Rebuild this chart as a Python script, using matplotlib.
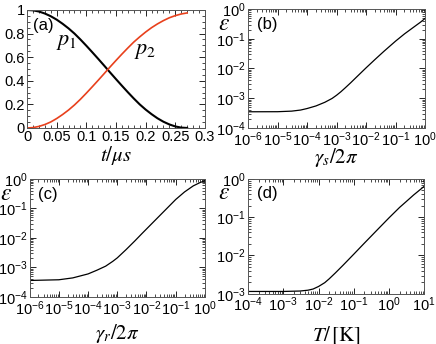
import math
import matplotlib
matplotlib.use('Agg')
import matplotlib.pyplot as plt
from matplotlib.ticker import FixedLocator, LogLocator, NullFormatter

plt.rcParams['font.family'] = ['Liberation Sans', 'DejaVu Sans']
plt.rcParams['mathtext.fontset'] = 'custom'
plt.rcParams['mathtext.rm'] = 'Liberation Sans'
plt.rcParams['mathtext.it'] = 'Liberation Sans:italic'
plt.rcParams['mathtext.bf'] = 'Liberation Sans:bold'

# (a) populations vs time
t_us = [0.0, 0.01, 0.02, 0.03, 0.04, 0.05, 0.06, 0.07, 0.08, 0.09, 0.10, 0.11, 0.12, 0.13,
        0.14, 0.15, 0.16, 0.17, 0.18, 0.19, 0.20, 0.21, 0.22, 0.23, 0.24, 0.25, 0.26, 0.27]
p1 = [1.0, 0.997, 0.987, 0.970, 0.947, 0.918, 0.883, 0.844, 0.800, 0.750, 0.697, 0.642, 0.586, 0.529,
      0.471, 0.414, 0.358, 0.303, 0.250, 0.200, 0.156, 0.117, 0.082, 0.053, 0.030, 0.013, 0.003, 0.0]
p2 = [0.0, 0.003, 0.013, 0.029, 0.051, 0.080, 0.114, 0.152, 0.195, 0.243, 0.295, 0.349, 0.404, 0.460,
      0.517, 0.572, 0.626, 0.678, 0.728, 0.772, 0.813, 0.850, 0.882, 0.910, 0.934, 0.952, 0.966, 0.975]
a_xticks = [0, 0.05, 0.1, 0.15, 0.2, 0.25, 0.3]
a_xlabels = ['0', '0.05', '0.1', '0.15', '0.2', '0.25', '0.3']
a_yticks = [0, 0.2, 0.4, 0.6, 0.8, 1.0]
a_ylabels = ['0', '0.2', '0.4', '0.6', '0.8', '1']

# (b) error vs gamma_s
gs = [1e-6, 1e-5, 3e-5, 6e-5, 1e-4, 2e-4, 4e-4, 7e-4, 1e-3, 1.4e-3, 2e-3, 3e-3, 5e-3,
      1e-2, 2e-2, 4e-2, 7e-2, 1e-1, 2e-1, 4e-1, 7e-1, 1.0]
eps_b = [3.5e-4, 3.52e-4, 3.68e-4, 4.0e-4, 4.5e-4, 5.5e-4, 7.3e-4, 9.8e-4, 1.26e-3, 1.65e-3, 2.27e-3,
         3.3e-3, 5.4e-3, 1.05e-2, 2.0e-2, 3.75e-2, 6.1e-2, 8.3e-2, 0.145, 0.24, 0.36, 0.48]

# (c) error vs gamma_r
gr = [1e-6, 1e-5, 3e-5, 1e-4, 2e-4, 4e-4, 7e-4, 1e-3, 2e-3, 4e-3, 7e-3,
      1e-2, 2e-2, 4e-2, 7e-2, 1e-1, 2e-1, 4e-1, 7e-1, 1.0]
eps_c = [3.6e-4, 3.8e-4, 4.4e-4, 6.0e-4, 8.0e-4, 1.1e-3, 1.6e-3, 2.1e-3, 4.0e-3, 7.9e-3, 1.4e-2,
         2.0e-2, 4.0e-2, 8.0e-2, 0.14, 0.2, 0.36, 0.58, 0.76, 0.86]

# (d) error vs temperature
temp = [1e-4, 1e-3, 3e-3, 5e-3, 7e-3, 1e-2, 1.5e-2, 2e-2, 3e-2, 5e-2, 1e-1, 2e-1, 5e-1,
        1.0, 2.0, 3.0, 5.0, 10.0]
eps_d = [1.15e-3, 1.15e-3, 1.18e-3, 1.24e-3, 1.33e-3, 1.55e-3, 1.95e-3, 2.45e-3, 3.5e-3, 5.6e-3,
         1.08e-2, 2.1e-2, 5.0e-2, 9.6e-2, 0.18, 0.25, 0.38, 0.64]

gamma_ticks = [1e-6, 1e-5, 1e-4, 1e-3, 1e-2, 1e-1, 1e0]
temp_ticks = [1e-4, 1e-3, 1e-2, 1e-1, 1e0, 1e1]
eps_ticks_4 = [1e-4, 1e-3, 1e-2, 1e-1, 1e0]
eps_ticks_3 = [1e-3, 1e-2, 1e-1, 1e0]


def pow_labels(vals):
    return [r'10$^{%d}$' % round(math.log10(v)) for v in vals]


def style(ax):
    ax.tick_params(which='both', direction='in', top=True, right=True, labelsize=10.5, pad=1.5)
    ax.tick_params(which='major', length=4, width=0.6)
    ax.tick_params(which='minor', length=2, width=0.5)
    for s in ax.spines.values():
        s.set_linewidth(0.7)
        s.set_color('#555555')


def log_panel(ax, x, y, xticks, yticks, xlabel, tag, pad):
    ax.plot(x, y, color='black', lw=0.9)
    ax.set_xscale('log')
    ax.set_yscale('log')
    ax.set_xlim(xticks[0], xticks[-1])
    ax.set_ylim(yticks[0], yticks[-1])
    ax.xaxis.set_major_locator(FixedLocator(xticks))
    ax.yaxis.set_major_locator(FixedLocator(yticks))
    ax.set_xticklabels(pow_labels(xticks))
    ax.set_yticklabels(pow_labels(yticks))
    ax.xaxis.set_minor_locator(LogLocator(base=10, subs=range(2, 10), numticks=100))
    ax.yaxis.set_minor_locator(LogLocator(base=10, subs=range(2, 10), numticks=100))
    ax.xaxis.set_minor_formatter(NullFormatter())
    ax.yaxis.set_minor_formatter(NullFormatter())
    style(ax)
    ax.set_xlabel(xlabel, fontsize=15, math_fontfamily='stix', labelpad=pad)
    ax.text(-0.135, 0.875, r'$\varepsilon$', transform=ax.transAxes, fontsize=17,
            math_fontfamily='stix', ha='center', va='center')
    ax.text(0.05, 0.87, tag, transform=ax.transAxes, fontsize=12, ha='left', va='center')


fig = plt.figure(figsize=(4.36, 3.44), dpi=100)
ax_a = fig.add_axes([0.062, 0.628, 0.408, 0.343])
ax_b = fig.add_axes([0.569, 0.628, 0.406, 0.346])
ax_c = fig.add_axes([0.068, 0.137, 0.402, 0.343])
ax_d = fig.add_axes([0.569, 0.146, 0.404, 0.334])

ax_a.plot(t_us, p1, color='black', lw=1.5)
ax_a.plot(t_us, p2, color='#e8401c', lw=1.2)
ax_a.set_xlim(0, 0.3)
ax_a.set_ylim(0, 1)
ax_a.set_xticks(a_xticks)
ax_a.set_xticklabels(a_xlabels)
ax_a.set_yticks(a_yticks)
ax_a.set_yticklabels(a_ylabels)
ax_a.xaxis.set_minor_locator(FixedLocator([i * 0.01 for i in range(31)]))
ax_a.yaxis.set_minor_locator(FixedLocator([i * 0.05 for i in range(21)]))
style(ax_a)
ax_a.set_xlabel(r'$t/\mu s$', fontsize=15, math_fontfamily='stix', labelpad=0)
ax_a.text(0.035, 0.87, '(a)', transform=ax_a.transAxes, fontsize=12, ha='left', va='center')
ax_a.text(0.067, 0.73, r'$p_1$', fontsize=16, math_fontfamily='stix', ha='center', va='center')
ax_a.text(0.199, 0.66, r'$p_2$', fontsize=16, math_fontfamily='stix', ha='center', va='center')

log_panel(ax_b, gs, eps_b, gamma_ticks, eps_ticks_4, r'$\gamma_s/2\pi$', '(b)', -2)
log_panel(ax_c, gr, eps_c, gamma_ticks, eps_ticks_4, r'$\gamma_r/2\pi$', '(c)', 3)
log_panel(ax_d, temp, eps_d, temp_ticks, eps_ticks_3, r'$T/\,[\mathrm{K}]$', '(d)', 7)

fig.savefig('out.png', dpi=100)
